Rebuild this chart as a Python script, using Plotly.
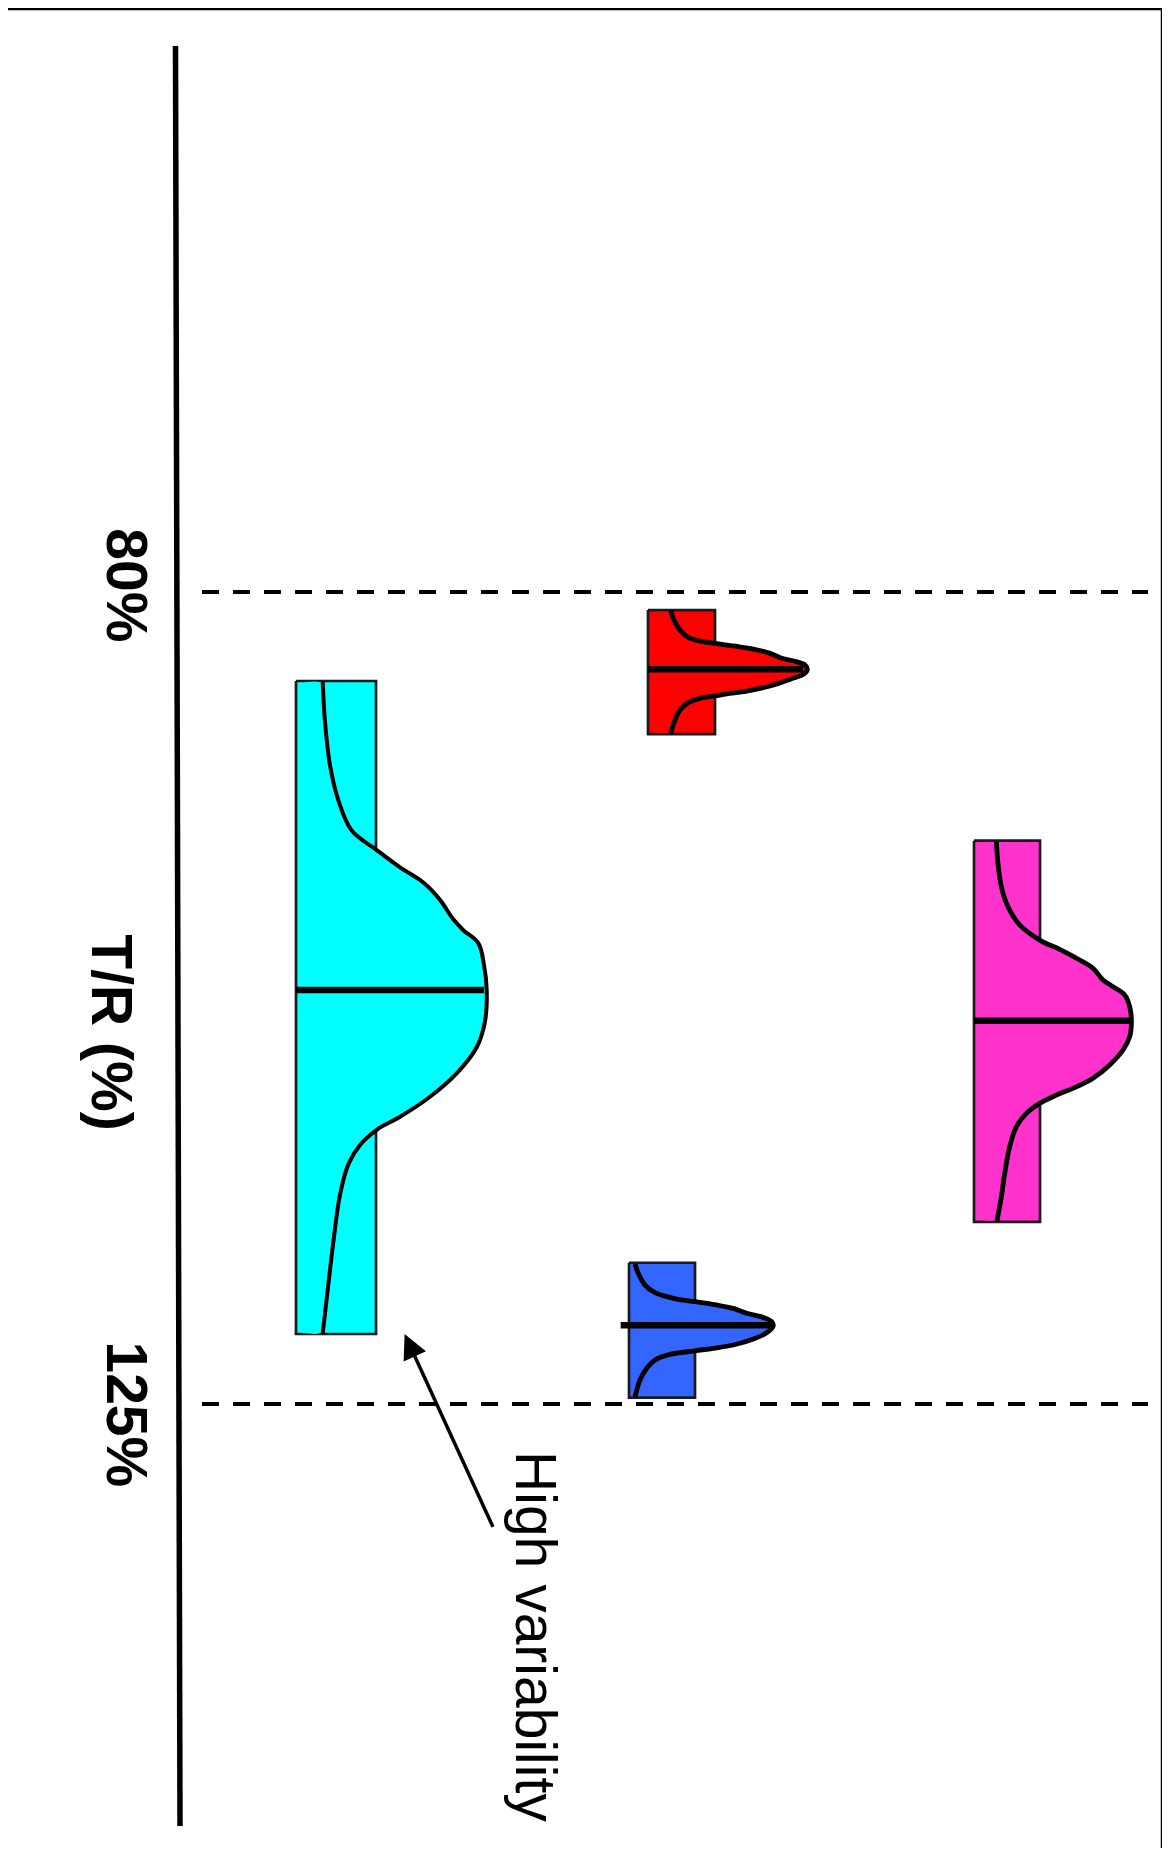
import plotly.graph_objects as go

# ---------------- data ----------------
TR_LIMITS = [80, 125]
LIMIT_LABELS = ["80%", "125%"]
LIMIT_LABEL_TR = [79.6, 125.55]
AXIS_TITLE = "T/R (%)"
AXIS_TITLE_TR = 104.4
ANNOT_TEXT = "High variability"

group_colors = ["#00FFFF", "#FF0000", "#3366FF", "#FF33CC"]
box_left = [29.6, 64.8, 62.9, 97.4]
box_width = [8.0, 6.7, 6.6, 6.6]
box_low = [84.93, 81.00, 117.17, 93.78]
box_high = [121.12, 87.87, 124.65, 114.90]
median_tr = [102.06, 84.28, 120.64, 103.76]
median_start = [0.0, 0.0, -0.83, 0.0]
median_len = [18.8, 15.5, 15.26, 15.5]

cyan_tr = [84.99, 87.20, 89.61, 91.53, 93.22, 94.30, 95.26, 96.10, 97.06, 98.14,
           98.74, 99.46, 100.67, 102.06, 103.79, 105.23, 106.67, 108.11, 109.08,
           109.80, 110.64, 111.72, 113.40, 116.04, 119.17, 121.09]
cyan_dens = [2.67, 2.9, 3.4, 4.23, 5.57, 8.07, 10.4, 12.73, 14.4, 15.73,
             16.73, 18.23, 18.8, 19.07, 18.9, 18.07, 16.07, 13.07, 10.4,
             8.07, 6.4, 5.23, 4.4, 3.73, 3.07, 2.67]

red_tr = [81.04, 81.55, 82.11, 82.51, 82.72, 82.84, 82.99, 83.16, 83.40, 83.67,
          83.86, 84.05, 84.28, 84.54, 84.84, 85.21, 85.49, 85.65, 85.76, 85.89,
          86.13, 86.54, 87.09, 87.83]
red_dens = [2.27, 2.6, 3.2, 4.03, 5.2, 6.7, 8.53, 10.53, 12.2, 13.37,
            14.87, 15.7, 15.93, 15.6, 14.2, 12.2, 9.87, 7.87, 6.7, 5.2,
            4.03, 3.2, 2.7, 2.27]

blue_tr = [117.24, 117.76, 118.41, 118.83, 119.14, 119.33, 119.51, 119.70, 119.97,
           120.20, 120.44, 120.64, 120.99, 121.40, 121.73, 121.91, 122.05, 122.25,
           122.56, 123.02, 123.67, 124.60]
blue_dens = [0.6, 0.93, 1.6, 2.6, 4.43, 6.6, 8.77, 10.43, 11.77,
             13.43, 14.27, 14.43, 13.93, 12.43, 10.43, 8.43, 6.6, 4.1,
             2.6, 1.77, 1.1, 0.6]

magenta_tr = [93.84, 95.04, 96.33, 97.44, 98.45, 99.29, 99.80, 100.39, 100.85,
              101.50, 101.87, 102.33, 102.98, 103.81, 104.64, 105.38, 106.21,
              106.95, 107.42, 107.88, 108.34, 108.89, 109.63, 110.74, 112.22,
              113.51, 114.84]
magenta_dens = [2.24, 2.40, 2.74, 3.40, 4.57, 6.57, 8.57, 10.57, 11.90,
                12.90, 13.90, 15.07, 15.57, 15.74, 15.57, 14.90, 13.57,
                11.90, 10.24, 8.24, 6.57, 5.24, 4.24, 3.57,
                3.07, 2.74, 2.30]

curves_tr = [cyan_tr, red_tr, blue_tr, magenta_tr]
curves_dens = [cyan_dens, red_dens, blue_dens, magenta_dens]
curve_widths = [4.0, 4.8, 4.8, 4.8]

axis_line_x = [17.55, 18.0]
axis_line_tr = [49.74, 148.39]
limit_line_x = [20.2, 114.8]

arrow_head = (40.46, 121.12)
arrow_tail = (49.36, 131.89)
annot_pos = (53.6, 137.86)

# ---------------- figure ----------------
# the page body has an 8px margin, so the figure is sized/offset for it
PAGE_W, PAGE_H, BODY = 1170, 1862, 8
W, H = PAGE_W - BODY, PAGE_H - 2 * BODY - 6
X_PER_PX = 0.1
TR_PER_PX = 0.055419
TR_TOP = 47.19
x_range = [BODY * X_PER_PX, (BODY + W) * X_PER_PX]
y_range = [TR_TOP + (BODY + H) * TR_PER_PX, TR_TOP + BODY * TR_PER_PX]

FONT = "Liberation Sans, Arial, Helvetica, sans-serif"
fig = go.Figure()

# main T/R axis line
fig.add_trace(go.Scatter(x=axis_line_x, y=axis_line_tr, mode="lines",
                         line=dict(color="black", width=5.5), hoverinfo="skip"))

# bioequivalence limits
for lim in TR_LIMITS:
    fig.add_trace(go.Scatter(x=limit_line_x, y=[lim, lim], mode="lines",
                             line=dict(color="black", width=4, dash="17px,14px"),
                             hoverinfo="skip"))

for i, col in enumerate(group_colors):
    l, w = box_left[i], box_width[i]
    lo, hi = box_low[i], box_high[i]
    # box
    fig.add_trace(go.Scatter(x=[l, l + w, l + w, l, l], y=[lo, lo, hi, hi, lo],
                             mode="lines", fill="toself", fillcolor=col,
                             line=dict(color="#1a1a1a", width=2.7), hoverinfo="skip"))
    tr = curves_tr[i]
    dens = curves_dens[i]
    cx = [l + d for d in dens]
    # density fill (covers box edge where the density sticks out)
    d_in = 0.09
    fx = [l + 0.3, cx[0]] + cx[1:-1] + [cx[-1], l + 0.3]
    fy = [tr[0] + d_in, tr[0] + d_in] + tr[1:-1] + [tr[-1] - d_in, tr[-1] - d_in]
    fig.add_trace(go.Scatter(x=fx, y=fy, mode="lines", fill="toself", fillcolor=col,
                             line=dict(width=0, shape="spline", smoothing=1.0),
                             hoverinfo="skip"))
    # density outline
    fig.add_trace(go.Scatter(x=cx, y=tr, mode="lines",
                             line=dict(color="black", width=curve_widths[i],
                                       shape="spline", smoothing=1.0),
                             hoverinfo="skip"))
    # median
    ms = l + median_start[i]
    fig.add_trace(go.Scatter(x=[ms, ms + median_len[i]], y=[median_tr[i]] * 2,
                             mode="lines", line=dict(color="black", width=6.5),
                             hoverinfo="skip"))

annotations = []
for lab, ytr in zip(LIMIT_LABELS, LIMIT_LABEL_TR):
    annotations.append(dict(x=12.75, y=ytr, xref="x", yref="y", text=lab,
                            showarrow=False, textangle=90,
                            xanchor="center", yanchor="middle",
                            font=dict(family=FONT, size=57, color="black", weight="bold")))
annotations.append(dict(x=11.2, y=AXIS_TITLE_TR, xref="x", yref="y", text=AXIS_TITLE,
                        showarrow=False, textangle=90,
                        xanchor="center", yanchor="middle",
                        font=dict(family=FONT, size=57, color="black", weight="bold")))
annotations.append(dict(x=annot_pos[0], y=annot_pos[1], xref="x", yref="y",
                        text=ANNOT_TEXT, showarrow=False, textangle=90,
                        xanchor="center", yanchor="middle",
                        font=dict(family=FONT, size=57, color="black")))
annotations.append(dict(x=arrow_head[0], y=arrow_head[1], xref="x", yref="y",
                        ax=arrow_tail[0], ay=arrow_tail[1], axref="x", ayref="y",
                        text="", showarrow=True, arrowhead=2, arrowsize=1.4,
                        arrowwidth=3.5, arrowcolor="black", standoff=0))

# outer frame (top and right edges visible in the reference)
frame_x = (1162 - BODY) / W
frame_y = 1 - (9 - BODY) / H
shapes = [
    dict(type="line", xref="paper", yref="paper", x0=0, x1=frame_x,
         y0=frame_y, y1=frame_y, line=dict(color="black", width=2.5)),
    dict(type="line", xref="paper", yref="paper", x0=frame_x, x1=frame_x,
         y0=frame_y, y1=0, line=dict(color="black", width=2.5)),
]

fig.update_layout(
    width=W, height=H,
    margin=dict(l=0, r=0, t=0, b=0),
    paper_bgcolor="white", plot_bgcolor="white",
    showlegend=False,
    xaxis=dict(range=x_range, visible=False, fixedrange=True),
    yaxis=dict(range=y_range, visible=False, fixedrange=True),
    annotations=annotations,
    shapes=shapes,
)

fig.write_html("out.html")
